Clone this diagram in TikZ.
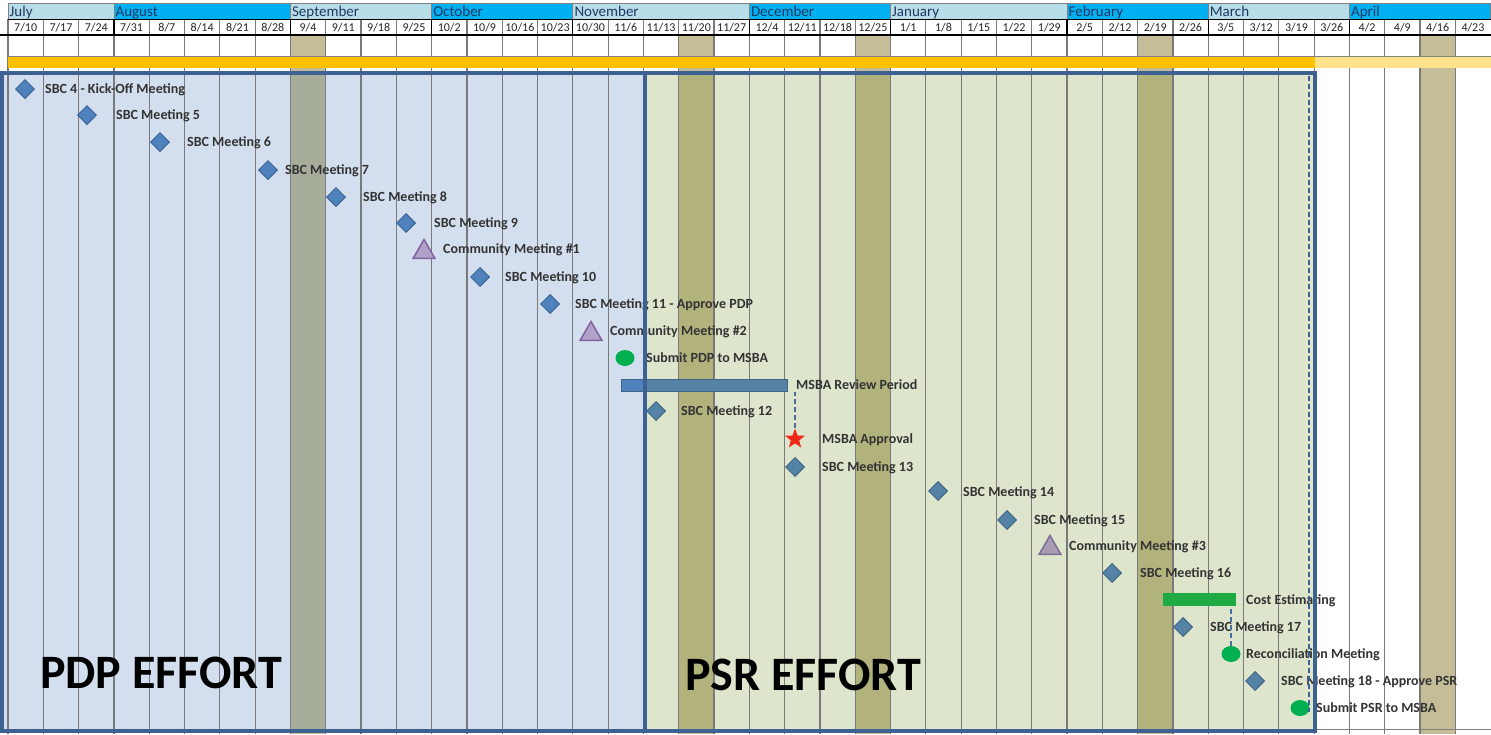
\documentclass[tikz,border=0pt]{standalone}
\usepackage{fontspec}
\setmainfont{Carlito}
\usetikzlibrary{shapes.geometric}
\definecolor{monA}{HTML}{B7DEE8}
\definecolor{monB}{HTML}{00B0F0}
\definecolor{monText}{HTML}{1F3864}
\definecolor{tanc}{HTML}{C4BD97}
\definecolor{pdpFill}{HTML}{D3DFEE}
\definecolor{psrFill}{HTML}{DDE5CD}
\definecolor{pdpHol}{HTML}{A7AD9B}
\definecolor{psrHol}{HTML}{B1B27C}
\definecolor{frameBlue}{HTML}{3D6192}
\definecolor{orangeBar}{HTML}{FFC000}
\definecolor{paleBar}{HTML}{FFE28A}
\definecolor{gridc}{HTML}{7A7A7A}
\definecolor{diaBlue}{HTML}{4F81BD}
\definecolor{diaEdge}{HTML}{3A6594}
\definecolor{diaSteel}{HTML}{5483A6}
\definecolor{steelEdge}{HTML}{3F6685}
\definecolor{triFill}{HTML}{B3A2C7}
\definecolor{triEdge}{HTML}{8064A2}
\definecolor{triGray}{HTML}{A99DB3}
\definecolor{msGreen}{HTML}{00B050}
\definecolor{costGreen}{HTML}{1FAB43}
\definecolor{starRed}{HTML}{F0281A}
\definecolor{labelGray}{HTML}{333333}
\definecolor{dashBlue}{HTML}{4A6F9A}
\begin{document}
\begin{tikzpicture}[x=1pt,y=-1pt,
  lbl/.style={anchor=base west, inner sep=0pt, font=\fontsize{14}{16}\selectfont\bfseries, text=labelGray},
  monlbl/.style={anchor=base west, inner sep=0pt, font=\fontsize{15}{17}\selectfont, text=monText},
  datelbl/.style={anchor=base, inner sep=0pt, font=\fontsize{12}{14}\selectfont, text=black!85},
  efflbl/.style={anchor=base west, inner sep=0pt, font=\fontsize{48}{52}\selectfont\bfseries, text=black},
  msd/.style={diamond, draw=diaEdge, fill=diaBlue, line width=1pt, minimum width=19pt, minimum height=19pt, inner sep=0pt},
  mss/.style={msd, fill=diaSteel, draw=steelEdge},
  mst/.style={regular polygon, regular polygon sides=3, draw=triEdge, fill=triFill, line width=1.5pt, minimum size=25pt, inner sep=0pt},
  mstg/.style={mst, fill=triGray, draw=triEdge!70!gray},
  mse/.style={ellipse, fill=msGreen, minimum width=19pt, minimum height=16pt, inner sep=0pt},
  gridl/.style={draw=gridc, line width=1.2pt},
  hdrline/.style={draw=gray, line width=0.8pt},
  frame/.style={draw=frameBlue, line width=4pt},
  conn/.style={draw=dashBlue, line width=1.2pt, dash pattern=on 5pt off 3pt}
]
\fill[white] (0,0) rectangle (1491,734);
\useasboundingbox (0,0) rectangle (1491,734);

% month row
\foreach \name/\s/\n/\c [count=\j] in {July/0/3/monA, August/3/5/monB, September/8/4/monA, October/12/4/monB, November/16/5/monA, December/21/4/monB, January/25/5/monA, February/30/4/monB, March/34/4/monA, April/38/4/monB}{
  \pgfmathsetmacro\xa{8+\s*35.3}
  \pgfmathsetmacro\xb{8+(\s+\n)*35.3}
  \fill[\c] (\xa,3) rectangle (\xb,19);
  \draw[hdrline] (\xa,3) rectangle (\xb,19);
  \node[monlbl] (mon\j) at (\xa+1.5,16.5) {\name};
}

% holiday columns (tan) full height
\foreach \k in {8,19,24,32,40}
  \fill[tanc] ({8+\k*35.3},35) rectangle ({8+(\k+1)*35.3},734);

% body regions
\fill[pdpFill] (2,73) rectangle (645,731);
\fill[psrFill] (645,73) rectangle (1315,731);
\fill[pdpHol] ({8+8*35.3},73) rectangle ({8+9*35.3},731);
\foreach \k in {19,24,32}
  \fill[psrHol] ({8+\k*35.3},73) rectangle ({8+(\k+1)*35.3},731);

% grid lines
\foreach \k in {0,...,41}
  \draw[gridl] ({8+\k*35.3},19) -- ({8+\k*35.3},734);
\draw[hdrline] (8,56) -- (1491,56);
\draw[hdrline] (1315,729.5) -- (1491,729.5);

% date row
\foreach \m/\dd [count=\i from 0] in {7/10,7/17,7/24,7/31,8/7,8/14,8/21,8/28,9/4,9/11,9/18,9/25,10/2,10/9,10/16,10/23,10/30,11/6,11/13,11/20,11/27,12/4,12/11,12/18,12/25,1/1,1/8,1/15,1/22,1/29,2/5,2/12,2/19,2/26,3/5,3/12,3/19,3/26,4/2,4/9,4/16,4/23}
  \node[datelbl] (date\i) at ({8+(\i+0.5)*35.3},31.5) {\m/\dd};
\draw[black, line width=1pt] (8,19) -- (1491,19);
\draw[black, line width=1.5pt] (0,35) -- (1491,35);
\foreach \k in {3,8,12,16,21,25,30,34,38}
  \draw[black, line width=1.2pt] ({8+\k*35.3},19) -- ({8+\k*35.3},35);

% orange bar
\fill[orangeBar] (8,57) rectangle (1315,68);
\fill[paleBar] (1315,57) rectangle (1491,68);

% milestones
\node[msd] (d1) at (25,89) {};   \node[lbl] (l1) at (45,93.5) {SBC 4 - Kick-Off Meeting};
\node[msd] (d2) at (87,115) {};  \node[lbl] (l2) at (116,119.5) {SBC Meeting 5};
\node[msd] (d3) at (160,142) {}; \node[lbl] (l3) at (187,146.5) {SBC Meeting 6};
\node[msd] (d4) at (268,170) {}; \node[lbl] (l4) at (285,174.5) {SBC Meeting 7};
\node[msd] (d5) at (336,197) {}; \node[lbl] (l5) at (363,201.5) {SBC Meeting 8};
\node[msd] (d6) at (406,223) {}; \node[lbl] (l6) at (434,227.5) {SBC Meeting 9};
\node[mst] (t1) at (424,252) {}; \node[lbl] (l7) at (443,253.5) {Community Meeting \#1};
\node[msd] (d7) at (480,277) {}; \node[lbl] (l8) at (505,281.5) {SBC Meeting 10};
\node[msd] (d8) at (550,304) {}; \node[lbl] (l9) at (575,308.5) {SBC Meeting 11 - Approve PDP};
\node[mst] (t2) at (591,334) {}; \node[lbl] (l10) at (610,335.5) {Community Meeting \#2};
\node[mse] (e1) at (625,358) {}; \node[lbl] (l11) at (646,362) {Submit PDP to MSBA};
\node[draw=steelEdge, fill=diaSteel, line width=1pt, minimum width=166pt, minimum height=12pt, inner sep=0pt] (bar1) at (704,385.5) {};
\fill[diaBlue] (621.5,380) rectangle (645,391);
\node[lbl] (l12) at (796,389.5) {MSBA Review Period};
\node[mss] (d9) at (656,411) {}; \node[lbl] (l13) at (681,415.5) {SBC Meeting 12};
\node[star, star points=5, star point ratio=2.4, fill=starRed, minimum size=21pt, inner sep=0pt] (s1) at (795,439) {};
\node[lbl] (l14) at (822,443.5) {MSBA Approval};
\draw[conn] (s1.north) -- (s1.north |- bar1.south);
\node[mss] (d10) at (795,467) {}; \node[lbl] (l15) at (822,471.5) {SBC Meeting 13};
\node[mss] (d11) at (938,491) {}; \node[lbl] (l16) at (963,496) {SBC Meeting 14};
\node[mss] (d12) at (1007,520) {}; \node[lbl] (l17) at (1034,524.5) {SBC Meeting 15};
\node[mstg] (t3) at (1050,548) {}; \node[lbl] (l18) at (1069,550) {Community Meeting \#3};
\node[mss] (d13) at (1112,573) {}; \node[lbl] (l19) at (1140,577.5) {SBC Meeting 16};
\node[fill=costGreen, minimum width=73pt, minimum height=13pt, inner sep=0pt] (bar2) at (1199.5,599.5) {};
\node[lbl] (l20) at (1246,604.5) {Cost Estimating};
\node[mss] (d14) at (1183,627) {}; \node[lbl] (l21) at (1210,631.5) {SBC Meeting 17};
\node[mse] (e2) at (1231,654) {}; \node[lbl] (l22) at (1246,658.5) {Reconciliation Meeting};
\draw[conn] (e2.north) -- (e2.north |- bar2.south);
\node[mss] (d15) at (1255,681) {}; \node[lbl] (l23) at (1281,685.5) {SBC Meeting 18 - Approve PSR};
\node[mse] (e3) at (1300,708) {}; \node[lbl] (l24) at (1316,712.5) {Submit PSR to MSBA};

% dashed deadline line
\coordinate (dlTop) at (1309,76);
\coordinate (dlBot) at (1309,712);
\draw[conn, draw=frameBlue] (dlTop) -- (dlBot);

% effort labels
\node[efflbl] (pdp) at (40,688) {PDP EFFORT};
\node[efflbl] (psr) at (685,690) {PSR EFFORT};

% frames
\draw[frame] (2,73) rectangle (645,731);
\draw[frame] (645,73) rectangle (1315,731);
\end{tikzpicture}
\end{document}
